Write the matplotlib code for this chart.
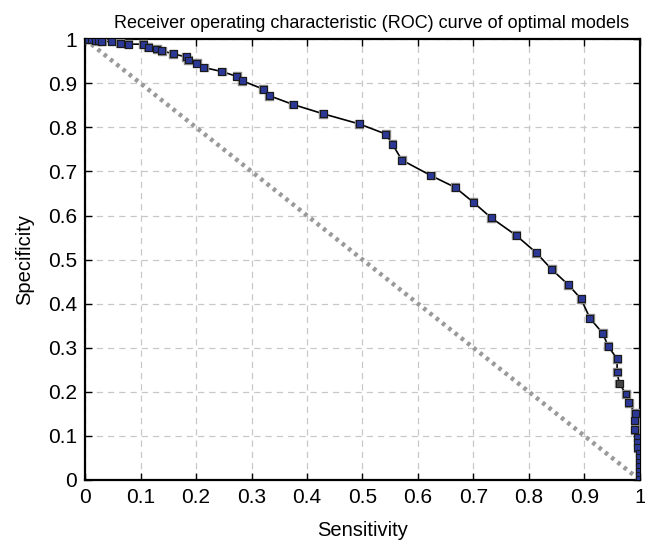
import matplotlib
matplotlib.use("Agg")
import matplotlib.pyplot as plt

plt.rcParams['font.family'] = ['Liberation Sans', 'DejaVu Sans']

# ROC points
SENS = [0.0, 0.006, 0.012, 0.018, 0.024, 0.03, 0.048, 0.063, 0.078, 0.105,
        0.114, 0.129, 0.138, 0.159, 0.182, 0.186, 0.201, 0.214, 0.246, 0.273,
        0.283, 0.321, 0.332, 0.375, 0.429, 0.494, 0.542, 0.554, 0.571, 0.623,
        0.667, 0.700, 0.732, 0.777, 0.813, 0.841, 0.871, 0.894, 0.910, 0.933,
        0.943, 0.959, 0.959, 0.963, 0.975, 0.980, 0.992, 0.991, 0.991, 0.996,
        0.996, 0.996, 1.0, 1.0, 1.0, 1.0, 1.0, 1.0, 1.0]
SPEC = [1.0, 1.0, 1.0, 0.998, 0.997, 0.995, 0.995, 0.991, 0.989, 0.989,
        0.982, 0.978, 0.974, 0.967, 0.960, 0.953, 0.946, 0.936, 0.927, 0.916,
        0.906, 0.887, 0.872, 0.852, 0.831, 0.808, 0.785, 0.762, 0.726, 0.691,
        0.664, 0.630, 0.595, 0.555, 0.516, 0.478, 0.443, 0.411, 0.367, 0.333,
        0.303, 0.275, 0.245, 0.219, 0.195, 0.175, 0.151, 0.134, 0.114, 0.097,
        0.085, 0.073, 0.061, 0.05, 0.04, 0.03, 0.02, 0.01, 0.0]
ODD_POINT = 43  # the one square drawn in dark grey
CHANCE_X = [0, 1]
CHANCE_Y = [1, 0]
TICKS = [0, 0.1, 0.2, 0.3, 0.4, 0.5, 0.6, 0.7, 0.8, 0.9, 1]
TICK_LABELS = ['0', '0.1', '0.2', '0.3', '0.4', '0.5', '0.6', '0.7', '0.8', '0.9', '1']

fig = plt.figure(figsize=(6.45, 5.46), dpi=100)
ax = fig.add_axes([0.132, 0.121, 0.860, 0.807])

ax.plot(CHANCE_X, CHANCE_Y, color='#9a9a9a', linestyle=(0, (0.8, 1.0)), lw=3.2, zorder=2)
ax.plot(SENS, SPEC, color='black', lw=1.2, zorder=3)
cols = ['#2b3895'] * len(SENS)
cols[ODD_POINT] = '#444444'
ax.scatter(SENS, SPEC, marker='s', s=32, c=cols, edgecolors='#8a8a8a', linewidths=1.0, zorder=4)
ax.scatter(SENS, SPEC, marker='s', s=25, c=cols, edgecolors='#1a1a1a', linewidths=0.8, zorder=5)

ax.set_xlim(0, 1)
ax.set_ylim(0, 1)
ax.set_xticks(TICKS)
ax.set_xticklabels(TICK_LABELS)
ax.set_yticks(TICKS)
ax.set_yticklabels(TICK_LABELS)
ax.tick_params(direction='in', length=5, width=1, labelsize=15, top=True, right=True, pad=6)
ax.grid(True, color='#c8c8c8', linestyle=(0, (5, 4)), lw=0.9)
for sp in ax.spines.values():
    sp.set_linewidth(1.6)

ax.set_title('Receiver operating characteristic (ROC) curve of optimal models', fontsize=13, pad=8, x=0.517)
ax.set_xlabel('Sensitivity', fontsize=14.5, labelpad=10)
ax.set_ylabel('Specificity', fontsize=14.5, labelpad=10)

fig.savefig('out.png', dpi=100)
